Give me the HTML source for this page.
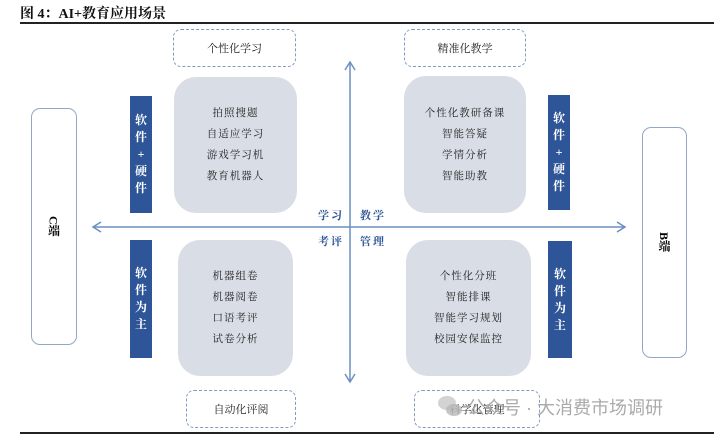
<!DOCTYPE html>
<html><head><meta charset="utf-8"><style>
body{margin:0;width:719px;height:436px;background:#fff;position:relative;overflow:hidden;font-family:"Liberation Serif","Noto Serif CJK SC",serif;}
.a{position:absolute;box-sizing:border-box}
.dash{border:1.5px dashed #7f9cc0;border-radius:8px;font-size:11px;color:#222;display:flex;align-items:center;justify-content:center}
.gray{background:#d9dde6;border-radius:22px;font-size:10.5px;color:#222;display:flex;flex-direction:column;align-items:center;justify-content:center;line-height:21px;letter-spacing:1px}
.bar{background:#2e5597;color:#fff;font-weight:bold;font-size:12px;display:flex;flex-direction:column;align-items:center;justify-content:center;line-height:17px}
.tall{border:1.2px solid #8fa8c8;border-radius:9px;display:flex;align-items:center;justify-content:center;font-weight:bold;font-size:12px}
.lab{font-size:11px;font-weight:bold;color:#2e5597;letter-spacing:2px}
</style></head><body>
<div class="a" style="left:20px;top:3px;font-size:14px;font-weight:bold;color:#111">图 4：AI+教育应用场景</div>
<div class="a" style="left:20px;top:22px;width:694px;height:1.5px;background:#222"></div>
<div class="a" style="left:20px;top:432px;width:694px;height:1.5px;background:#222"></div>

<div class="a dash" style="left:173px;top:29px;width:123px;height:38px">个性化学习</div>
<div class="a dash" style="left:404px;top:29px;width:122px;height:38px">精准化教学</div>
<div class="a dash" style="left:186px;top:390px;width:110px;height:38px">自动化评阅</div>
<div class="a dash" style="left:414px;top:390px;width:126px;height:38px">科学化管理</div>

<div class="a gray" style="left:174px;top:77px;width:123px;height:136px"><div>拍照搜题</div><div>自适应学习</div><div>游戏学习机</div><div>教育机器人</div></div>
<div class="a gray" style="left:404px;top:76px;width:122px;height:137px"><div>个性化教研备课</div><div>智能答疑</div><div>学情分析</div><div>智能助教</div></div>
<div class="a gray" style="left:178px;top:240px;width:115px;height:136px"><div>机器组卷</div><div>机器阅卷</div><div>口语考评</div><div>试卷分析</div></div>
<div class="a gray" style="left:406px;top:240px;width:125px;height:136px"><div>个性化分班</div><div>智能排课</div><div>智能学习规划</div><div>校园安保监控</div></div>

<div class="a bar" style="left:130px;top:96px;width:22px;height:117px"><div>软</div><div>件</div><div>+</div><div>硬</div><div>件</div></div>
<div class="a bar" style="left:548px;top:95px;width:22px;height:115px"><div>软</div><div>件</div><div>+</div><div>硬</div><div>件</div></div>
<div class="a bar" style="left:130px;top:240px;width:22px;height:118px"><div>软</div><div>件</div><div>为</div><div>主</div></div>
<div class="a bar" style="left:548px;top:241px;width:24px;height:117px"><div>软</div><div>件</div><div>为</div><div>主</div></div>

<div class="a tall" style="left:31px;top:108px;width:46px;height:237px"><span style="writing-mode:vertical-rl">C端</span></div>
<div class="a tall" style="left:642px;top:127px;width:45px;height:231px"><span style="writing-mode:vertical-rl">B端</span></div>

<svg class="a" style="left:0;top:0" width="719" height="436">
<g stroke="#6b8fc0" stroke-width="1.5" fill="none">
<line x1="350" y1="62" x2="350" y2="382"/>
<polyline points="345,70 350,62 355,70"/>
<polyline points="345,374 350,382 355,374"/>
<line x1="93" y1="227" x2="625" y2="227"/>
<polyline points="101,222 93,227 101,232"/>
<polyline points="617,222 625,227 617,232"/>
</g></svg>
<div class="a lab" style="left:318px;top:207px">学习</div>
<div class="a lab" style="left:360px;top:207px">教学</div>
<div class="a lab" style="left:318px;top:233px">考评</div>
<div class="a lab" style="left:360px;top:233px">管理</div>

<div class="a" style="left:438px;top:396px;width:18px;height:14px;border-radius:50%;background:#c8c8c8;opacity:.8"></div>
<div class="a" style="left:446px;top:404px;width:16px;height:12px;border-radius:50%;background:#b8b8b8;opacity:.8"></div>
<div class="a" style="left:467px;top:394px;font-family:'Liberation Sans','Noto Sans CJK SC',sans-serif;font-size:18px;color:#aaa;white-space:nowrap">公众号 · 大消费市场调研</div>
</body></html>
